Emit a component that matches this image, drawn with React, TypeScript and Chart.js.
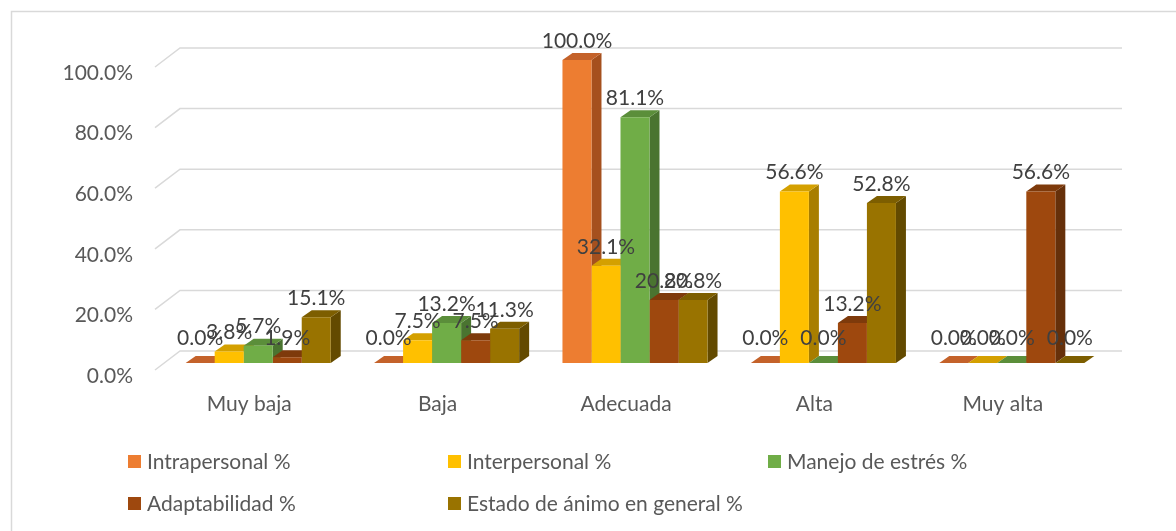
import React, { useEffect, useRef } from "react";
import { Chart, registerables } from "chart.js";

Chart.register(...registerables);

// ---------- data ----------
const categories = ["Muy baja", "Baja", "Adecuada", "Alta", "Muy alta"];
const seriesNames = [
  "Intrapersonal %",
  "Interpersonal %",
  "Manejo de estrés %",
  "Adaptabilidad %",
  "Estado de ánimo en general %",
];
const intrapersonal = [0.0, 0.0, 100.0, 0.0, 0.0];
const interpersonal = [3.8, 7.5, 32.1, 56.6, 0.0];
const manejoEstres = [5.7, 13.2, 81.1, 0.0, 0.0];
const adaptabilidad = [1.9, 7.5, 20.8, 13.2, 56.6];
const estadoAnimo = [15.1, 11.3, 20.8, 52.8, 0.0];
const yTicks = [0, 20, 40, 60, 80, 100];

// ---------- styles ----------
const frontColors = ["#ED7D31", "#FFC000", "#70AD47", "#9E480E", "#997300"];
const topColors = ["#C4622A", "#D4A000", "#5B8E3A", "#7E3A0B", "#7D5E00"];
const sideColors = ["#A5501E", "#A87E00", "#4A7430", "#66300A", "#634A00"];
const FONT = "Lato, 'Open Sans', sans-serif";
const TEXT = "#595959";
const LABEL = "#404040";
const GRID = "#d9d9d9";

const DX = 10; // bar depth (x)
const DY = 7; // bar depth (y)
const WALL_DX = 16;
const WALL_DY = -12;
const FLOOR_DX = -9;
const FLOOR_DY = 7;

const fmt = (v: number) => v.toFixed(1) + "%";

const threeD = {
  id: "threeD",
  beforeDraw(chart: any) {
    const ctx = chart.ctx;
    ctx.save();
    ctx.strokeStyle = GRID;
    ctx.lineWidth = 1.5;
    ctx.beginPath();
    ctx.moveTo(11.5, chart.height + 2);
    ctx.lineTo(11.5, 11.5);
    ctx.lineTo(chart.width + 2, 11.5);
    ctx.stroke();
    ctx.restore();
  },
  beforeDatasetsDraw(chart: any) {
    const ctx = chart.ctx;
    const { left, right } = chart.chartArea;
    const ys = chart.scales.y;
    ctx.save();
    ctx.strokeStyle = GRID;
    ctx.lineWidth = 1.5;
    yTicks.forEach((v) => {
      const py = ys.getPixelForValue(v);
      ctx.beginPath();
      ctx.moveTo(left + FLOOR_DX, py + FLOOR_DY);
      ctx.lineTo(left + WALL_DX, py + WALL_DY);
      ctx.lineTo(right + WALL_DX, py + WALL_DY);
      ctx.stroke();
    });
    for (let c = 0; c < categories.length; c++) {
      chart.data.datasets.forEach((_ds: any, i: number) => {
        const bar = chart.getDatasetMeta(i).data[c];
        const { x, y: top, base, width } = bar.getProps(["x", "y", "base", "width"], true);
        const l = x - width / 2;
        const r = x + width / 2;
        ctx.fillStyle = sideColors[i];
        ctx.beginPath();
        ctx.moveTo(r, base);
        ctx.lineTo(r + DX, base - DY);
        ctx.lineTo(r + DX, top - DY);
        ctx.lineTo(r, top);
        ctx.closePath();
        ctx.fill();
        ctx.fillStyle = topColors[i];
        ctx.beginPath();
        ctx.moveTo(l, top);
        ctx.lineTo(l + DX, top - DY);
        ctx.lineTo(r + DX, top - DY);
        ctx.lineTo(r, top);
        ctx.closePath();
        ctx.fill();
      });
    }
    ctx.restore();
  },
  afterDatasetsDraw(chart: any) {
    const ctx = chart.ctx;
    ctx.save();
    ctx.font = `21px ${FONT}`;
    ctx.fillStyle = LABEL;
    ctx.textAlign = "center";
    ctx.textBaseline = "middle";
    chart.data.datasets.forEach((ds: any, i: number) => {
      chart.getDatasetMeta(i).data.forEach((bar: any, c: number) => {
        const v = ds.data[c] as number;
        const { x, y } = bar.getProps(["x", "y"], true);
        ctx.fillText(fmt(v), x, y - 19 - (v === 0 ? 6 : 0));
      });
    });
    ctx.restore();
  },
  afterDraw(chart: any) {
    const ctx = chart.ctx;
    ctx.save();
    ctx.font = `21px ${FONT}`;
    ctx.textAlign = "left";
    ctx.textBaseline = "middle";
    const colX = [128, 448, 768];
    const rowY = [462, 504];
    seriesNames.forEach((name, i) => {
      const cx = colX[i % 3];
      const cy = rowY[Math.floor(i / 3)];
      ctx.fillStyle = frontColors[i];
      ctx.fillRect(cx, cy - 7, 13, 13);
      ctx.fillStyle = TEXT;
      ctx.fillText(name, cx + 19, cy);
    });
    ctx.restore();
  },
};

export default function App() {
  const ref = useRef<HTMLCanvasElement | null>(null);
  useEffect(() => {
    if (!ref.current) return;
    const seriesData = [intrapersonal, interpersonal, manejoEstres, adaptabilidad, estadoAnimo];
    const chart = new Chart(ref.current, {
      type: "bar",
      data: {
        labels: categories,
        datasets: seriesNames.map((name, i) => ({
          label: name,
          data: seriesData[i],
          backgroundColor: frontColors[i],
          borderWidth: 0,
          barPercentage: 1,
          categoryPercentage: 0.77,
        })),
      },
      plugins: [threeD],
      options: {
        responsive: false,
        animation: false,
        devicePixelRatio: 1,
        layout: { padding: { left: 0, right: 70, top: 60, bottom: 0 } },
        plugins: {
          legend: { display: false },
          tooltip: { enabled: false },
          title: { display: false },
        },
        scales: {
          x: {
            grid: { display: false, drawTicks: false },
            border: { display: false },
            ticks: {
              color: TEXT,
              font: { family: FONT, size: 21 },
              padding: 29,
              labelOffset: -9,
              maxRotation: 0,
              autoSkip: false,
            },
            afterFit: (s: any) => {
              s.height = 168;
            },
          },
          y: {
            min: 0,
            max: 100,
            grid: { display: false, drawTicks: false },
            border: { display: false },
            ticks: {
              stepSize: 20,
              color: TEXT,
              font: { family: FONT, size: 21 },
              padding: 31,
              labelOffset: 13,
              callback: (v: any) => Number(v).toFixed(1) + "%",
            },
            afterFit: (s: any) => {
              s.width = 164;
            },
          },
        },
      },
    });
    return () => chart.destroy();
  }, []);
  return (
    <div style={{ position: "fixed", left: 0, top: 0, width: 1176, height: 531, background: "#fff" }}>
      <canvas ref={ref} width={1176} height={531} />
    </div>
  );
}
